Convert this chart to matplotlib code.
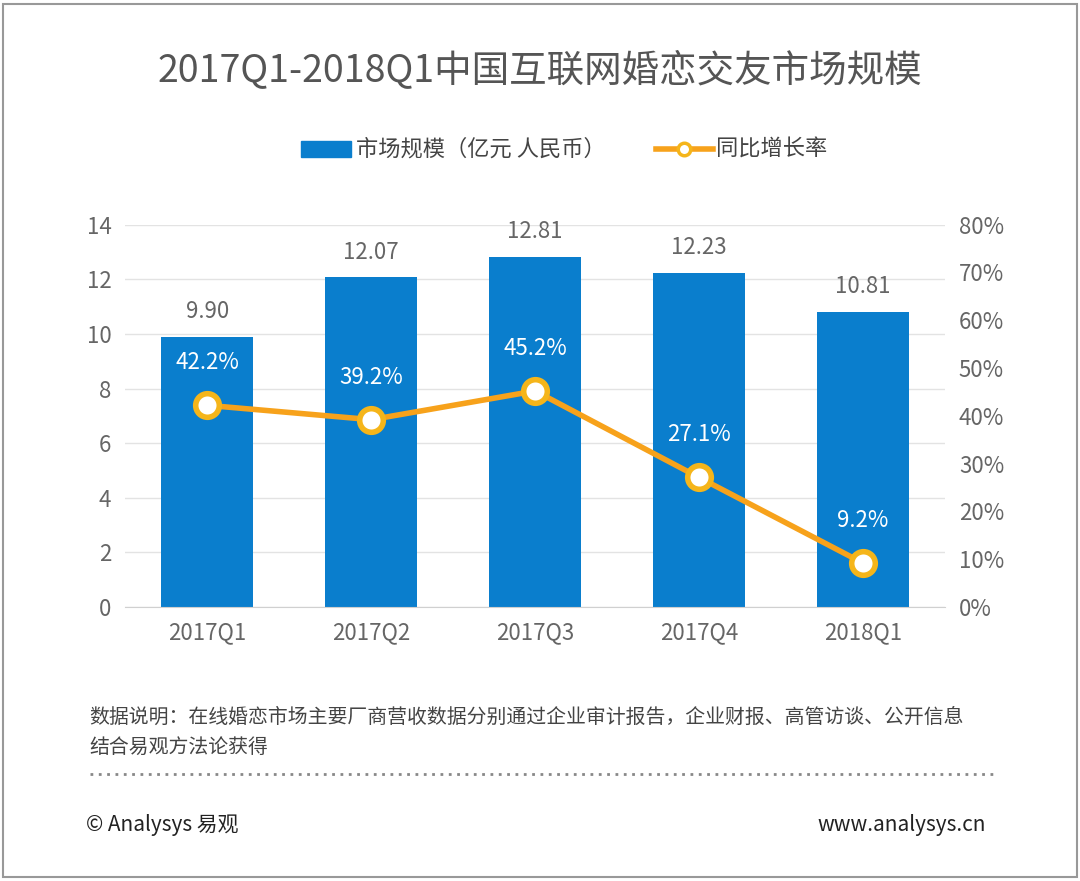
import numpy as np
from matplotlib import pyplot as plt

plt.rcParams['font.family'] = ['Noto Sans CJK SC', 'DejaVu Sans']

# Datos
quarters = ['2017Q1', '2017Q2', '2017Q3', '2017Q4', '2018Q1']
market_size = [9.90, 12.07, 12.81, 12.23, 10.81]  # 亿元
growth = [42.2, 39.2, 45.2, 27.1, 9.2]  # %

bar_color = '#0A7ECD'
line_color = '#F7A21B'
grey = '#666666'

fig = plt.figure(figsize=(10.8, 8.81), dpi=100)
x = np.arange(len(quarters))

# Eje principal (barras)
ax1 = fig.add_axes([0.116, 0.311, 0.759, 0.434])
ax1.bar(x, market_size, width=0.56, color=bar_color, zorder=2)
ax1.set_ylim(0, 14)
ax1.set_yticks(range(0, 15, 2))
ax1.set_xlim(-0.5, 4.5)
ax1.set_xticks(x)
ax1.set_xticklabels(quarters)
ax1.tick_params(colors=grey, labelsize=16, length=0, pad=10)
ax1.grid(axis='y', color='#E3E3E3', lw=1, zorder=0)
for s in ['top', 'right', 'left']:
    ax1.spines[s].set_visible(False)
ax1.spines['bottom'].set_color('#D0D0D0')
for i, v in enumerate(market_size):
    ax1.text(i, v + 0.5, '%.2f' % v, ha='center', va='bottom', fontsize=16, color=grey)

# Eje secundario (linea)
ax2 = ax1.twinx()
ax2.plot(x, growth, color=line_color, lw=4, marker='o', ms=17, mfc='white',
         mec='#F5B51A', mew=4, zorder=3)
ax2.set_ylim(0, 80)
ax2.set_yticks(range(0, 81, 10))
ax2.set_yticklabels(['%d%%' % t for t in range(0, 81, 10)])
ax2.tick_params(colors=grey, labelsize=16, length=0, pad=10)
for s in ax2.spines.values():
    s.set_visible(False)
for i, v in enumerate(growth):
    ax2.text(i, v + 6.5, '%.1f%%' % v, ha='center', va='bottom', fontsize=16, color='white')

# Titulo y leyenda
fig.text(0.5, 0.92, '2017Q1-2018Q1中国互联网婚恋交友市场规模', ha='center', va='center',
         fontsize=27, color='#555555')
fig.patches.append(plt.Rectangle((0.279, 0.822), 0.046, 0.018, color=bar_color,
                                 transform=fig.transFigure, figure=fig))
fig.text(0.33, 0.831, '市场规模（亿元 人民币）', va='center', fontsize=16, color='#444444')
fig.lines.append(plt.Line2D([0.607, 0.66], [0.831, 0.831], color=line_color, lw=4,
                            transform=fig.transFigure))
fig.lines.append(plt.Line2D([0.633], [0.831], color=line_color, marker='o', ms=9,
                            mfc='white', mec='#F5B51A', mew=2.5, transform=fig.transFigure))
fig.text(0.663, 0.831, '同比增长率', va='center', fontsize=16, color='#444444')

# Notas
fig.text(0.083, 0.186, '数据说明：在线婚恋市场主要厂商营收数据分别通过企业审计报告，企业财报、高管访谈、公开信息',
         fontsize=14.3, color='#444444', va='center')
fig.text(0.083, 0.152, '结合易观方法论获得', fontsize=14.3, color='#444444', va='center')
fig.lines.append(plt.Line2D([0.083, 0.92], [0.122, 0.122], color='#888888', lw=2,
                            ls=(0, (1, 2)), transform=fig.transFigure))
fig.text(0.08, 0.063, '© Analysys 易观', fontsize=15, color='#222222', va='center')
fig.text(0.913, 0.063, 'www.analysys.cn', fontsize=15, color='#222222', va='center', ha='right')

# Marco
fig.patches.append(plt.Rectangle((0.003, 0.004), 0.994, 0.992, fill=False, ec='#999999',
                                 lw=1.5, transform=fig.transFigure, figure=fig))

plt.savefig('out.png', dpi=100)
